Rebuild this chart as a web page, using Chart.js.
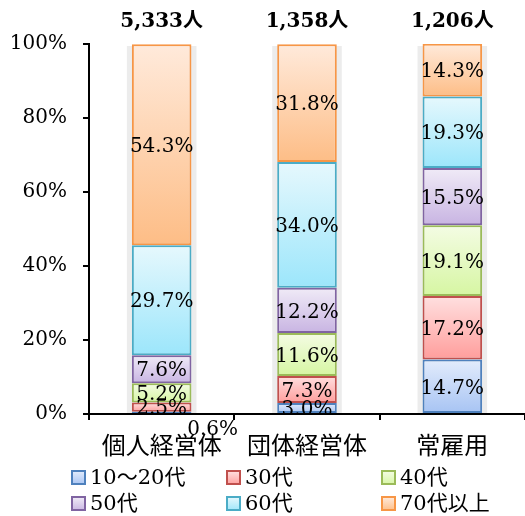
<!DOCTYPE html>
<html>
<head>
<meta charset="utf-8">
<script src="https://cdn.jsdelivr.net/npm/chart.js@4"></script>
<style>
  html, body { margin: 0; padding: 0; background: #fff; }
  #wrap { width: 525px; height: 516px; }
</style>
</head>
<body>
<div id="wrap"><canvas id="chart" width="525" height="516"></canvas></div>
<script>
// Data
const categories = ["個人経営体", "団体経営体", "常雇用"];
const totals = ["5,333人", "1,358人", "1,206人"];
const seriesNames = ["10～20代", "30代", "40代", "50代", "60代", "70代以上"];
const age1020 = [0.6, 3.0, 14.7];
const age30 = [2.5, 7.3, 17.2];
const age40 = [5.2, 11.6, 19.1];
const age50 = [7.6, 12.2, 15.5];
const age60 = [29.7, 34.0, 19.3];
const age70 = [54.3, 31.8, 14.3];
const yTicks = [0, 20, 40, 60, 80, 100];

const seriesValues = [age1020, age30, age40, age50, age60, age70];

// Styles
const FONT = '"DejaVu Serif", "Noto Sans CJK JP", serif';
const borders = ["#4f81bd", "#c0504d", "#9bbb59", "#8064a2", "#4bacc6", "#f79646"];
const fillTop = ["#e3ecfc", "#ffe0e0", "#f4fce4", "#f0ebf7", "#e6f8fd", "#ffeadb"];
const fillBot = ["#a6c3f3", "#ff9d9b", "#d6f6a2", "#c8b4e2", "#9ce6fb", "#fdbd86"];

const segFill = (i) => (c) => {
  const chart = c.chart;
  if (!chart.chartArea || c.dataIndex === undefined) return fillBot[i];
  const y = chart.scales.y;
  let base = 0;
  for (let k = 0; k < i; k++) base += seriesValues[k][c.dataIndex];
  const top = y.getPixelForValue(base + seriesValues[i][c.dataIndex]);
  const bot = y.getPixelForValue(base);
  if (!isFinite(top) || !isFinite(bot) || top === bot) return fillBot[i];
  const g = chart.ctx.createLinearGradient(0, top, 0, bot);
  g.addColorStop(0, fillTop[i]);
  g.addColorStop(1, fillBot[i]);
  return g;
};

// Plugins
const shadowPlugin = {
  id: "shadow",
  beforeDatasetsDraw(chart) {
    const ctx = chart.ctx;
    ctx.save();
    ctx.fillStyle = "#ececec";
    const meta = chart.getDatasetMeta(0);
    meta.data.forEach((el) => {
      const top = chart.scales.y.getPixelForValue(100);
      const half = el.width / 2 + 5;
      ctx.fillRect(el.x - half, top + 2, half * 2, el.base - top - 2);
    });
    ctx.restore();
  }
};

const labelPlugin = {
  id: "labels",
  afterDatasetsDraw(chart) {
    const ctx = chart.ctx;
    ctx.save();
    ctx.fillStyle = "#000";
    ctx.textAlign = "center";
    ctx.textBaseline = "middle";
    ctx.font = "20px " + FONT;
    chart.data.datasets.forEach((ds, i) => {
      chart.getDatasetMeta(i).data.forEach((el, j) => {
        const v = ds.data[j];
        const txt = v.toFixed(1) + "%";
        if (v < 1) {
          ctx.fillText(txt, el.x + 51, el.base + 17);
        } else {
          ctx.fillText(txt, el.x, (el.y + el.base) / 2 + 2);
        }
      });
    });
    // totals above bars
    ctx.font = "bold 20px " + FONT;
    chart.getDatasetMeta(0).data.forEach((el, j) => {
      ctx.fillText(totals[j], el.x, 22);
    });
    ctx.restore();
  }
};

const legendPlugin = {
  id: "gridLegend",
  afterDraw(chart) {
    const ctx = chart.ctx;
    const colX = [72, 227, 382];
    const rowY = [478, 504];
    ctx.save();
    ctx.font = "21px " + FONT;
    ctx.textBaseline = "middle";
    ctx.textAlign = "left";
    seriesNames.forEach((name, i) => {
      const x = colX[i % 3];
      const y = rowY[Math.floor(i / 3)];
      const g = ctx.createLinearGradient(0, y - 7, 0, y + 7);
      g.addColorStop(0, fillTop[i]);
      g.addColorStop(1, fillBot[i]);
      ctx.fillStyle = g;
      ctx.fillRect(x, y - 7, 13, 13);
      ctx.strokeStyle = borders[i];
      ctx.lineWidth = 2;
      ctx.strokeRect(x, y - 7, 13, 13);
      ctx.fillStyle = "#000";
      ctx.fillText(name, x + 18, y + 1);
    });
    ctx.restore();
  }
};

new Chart(document.getElementById("chart"), {
  type: "bar",
  data: {
    labels: categories,
    datasets: seriesNames.map((name, i) => ({
      label: name,
      data: seriesValues[i],
      backgroundColor: segFill(i),
      borderColor: borders[i],
      borderWidth: 2,
      borderSkipped: false,
      categoryPercentage: 0.41,
      barPercentage: 1
    }))
  },
  options: {
    responsive: false,
    animation: false,
    layout: { padding: { top: 44, left: 0, right: 0, bottom: 52 } },
    plugins: { legend: { display: false }, tooltip: { enabled: false } },
    scales: {
      x: {
        stacked: true,
        border: { color: "#000", width: 2 },
        grid: { drawOnChartArea: false, color: "#000", tickLength: 6, lineWidth: 2 },
        ticks: { color: "#000", font: { family: FONT, size: 24 }, padding: 13 },
        afterFit: (s) => { s.height = 50; }
      },
      y: {
        stacked: true,
        min: 0,
        max: 100,
        border: { color: "#000", width: 2 },
        grid: { drawOnChartArea: false, color: "#000", tickLength: 6, lineWidth: 2 },
        afterBuildTicks: (s) => { s.ticks = yTicks.map((v) => ({ value: v })); },
        ticks: {
          color: "#000",
          font: { family: FONT, size: 20 },
          padding: 16,
          callback: (v) => v + "%"
        },
        afterFit: (s) => { s.width = 89; }
      }
    }
  },
  plugins: [shadowPlugin, labelPlugin, legendPlugin]
});
</script>
</body>
</html>
